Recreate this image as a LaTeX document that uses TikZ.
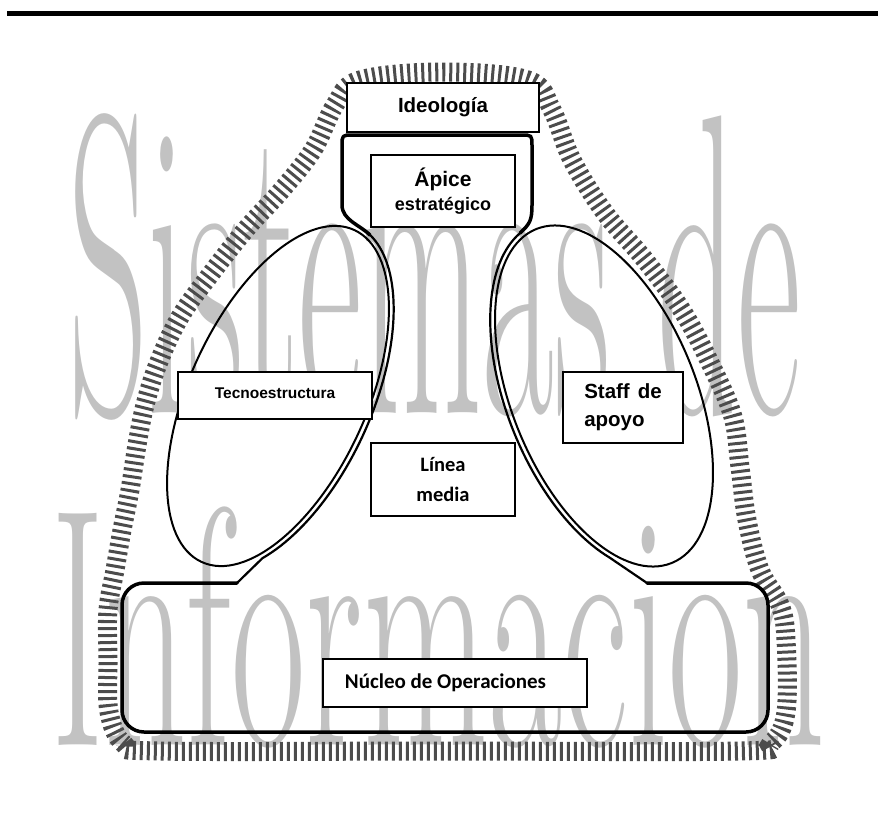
\documentclass[tikz,border=0pt]{standalone}
\usepackage{fontspec}
\usepackage{graphicx}
\setsansfont{Liberation Sans}
\newfontfamily\carl{Carlito}
\begin{document}
\begin{tikzpicture}[x=1pt,y=-1pt,
  boxst/.style={draw=black, line width=1.5pt, fill=white, inner sep=0pt},
  hatchst/.style={draw=black!70, line width=19pt, dash pattern=on 3pt off 4pt},
  ellst/.style={draw=black, line width=2pt},
  thickst/.style={draw=black, line width=3.5pt, line cap=round, line join=round},
  thinst/.style={draw=black, line width=2.2pt, line cap=round, line join=round},
  wmst/.style={text=black!24, inner sep=0pt, font=\rmfamily},
  arial/.style={font=\sffamily\bfseries\fontsize{#1}{#1}\selectfont},
  calib/.style={font=\carl\bfseries\fontsize{#1}{#1}\selectfont}
]
\useasboundingbox (0,0) rectangle (878,814);

% watermark
\node[wmst, anchor=base west] (wm1) at (68,413) {\raisebox{0pt}[\height][0pt]{\scalebox{0.364}[1]{\fontsize{429}{429}\selectfont Sistemas de}}};
\node[wmst, anchor=base west] (wm2) at (51,745) {\raisebox{0pt}[\height][0pt]{\scalebox{0.476}[1]{\fontsize{340}{340}\selectfont Informacion}}};

% outer hatched boundary
\draw[hatchst] plot[smooth cycle, tension=0.6] coordinates {
 (109,712) (124,744) (160,751) (443,751) (740,751) (771,743) (786,712)
 (786,640) (780,605) (760,570) (747,520) (740,467) (733,417) (712,367)
 (683,312) (645,260) (605,213) (572,160) (552,110) (528,80) (443,72)
 (360,80) (335,105) (313,150) (280,192) (247,228) (213,271) (180,317)
 (158,364) (145,405) (137,445) (130,490) (122,530) (115,570) (108,610)
 (108,660)};

% ellipses
\draw[ellst, rotate around={-24.7:(278,396)}] (278,396) ellipse[x radius=88.6pt, y radius=182.7pt];
\draw[ellst, rotate around={22.1:(604,396)}] (604,396) ellipse[x radius=92.1pt, y radius=180.2pt];

% central shape
\coordinate (coreL) at (237,583);
\coordinate (coreR) at (647,583);
\draw[thinst] (coreL) -- plot[domain=-55:80, samples=60, variable=\t]
  ({278+93.6*cos(\t)*0.9085+187.7*sin(\t)*0.4179},{396+93.6*cos(\t)*0.4179-187.7*sin(\t)*0.9085});
\draw[thinst] plot[domain=100:235, samples=60, variable=\t]
  ({604+97.1*cos(\t)*0.9265-185.2*sin(\t)*0.3762},{396-97.1*cos(\t)*0.3762-185.2*sin(\t)*0.9265}) -- (coreR);
\draw[thickst] (370,235) .. controls (360,225) and (342,220) .. (342,205) -- (342,146)
  .. controls (342,135) .. (353,135) -- (521,135) .. controls (532,135) .. (532,146)
  -- (532,205) .. controls (532,220) and (530,224) .. (520,233);
\draw[thickst, rounded corners=22pt] (coreL) -- (122,583) -- (122,732) -- (768,732) -- (768,583) -- (coreR);

% boxes with their texts
\node[boxst, arial=20.5, minimum width=192pt, minimum height=49pt] (ideo) at (443,107.5) {Ideología};
\node[boxst, font=\sffamily\bfseries\fontsize{21}{24}\selectfont, align=center, minimum width=144pt, minimum height=72pt] (apice) at (443,191)
  {Ápice\\{\fontsize{18}{24}\selectfont estratégico}};
\node[boxst, arial=15.5, text height=9pt, text depth=3pt, minimum width=194pt, minimum height=47pt] (tecno) at (275,395.5) {Tecnoestructura};
\node[boxst, font=\sffamily\bfseries\fontsize{20.5}{28}\selectfont, align=left, minimum width=120pt, minimum height=71pt] (staff) at (623,407.5)
  {Staff\hspace{8pt}de\\apoyo};
\node[boxst, font=\carl\bfseries\fontsize{20.5}{30}\selectfont, align=center, minimum width=144pt, minimum height=73pt] (linea) at (443,479.5)
  {Línea\\media};
\node[boxst, calib=21, text height=12pt, text depth=2pt, minimum width=264pt, minimum height=48pt] (nucleo) at (455,683)
  {Núcleo de Operaciones\hspace*{19pt}};

% top rule
\fill[black] (7,11) rectangle (878,16);
\end{tikzpicture}
\end{document}
